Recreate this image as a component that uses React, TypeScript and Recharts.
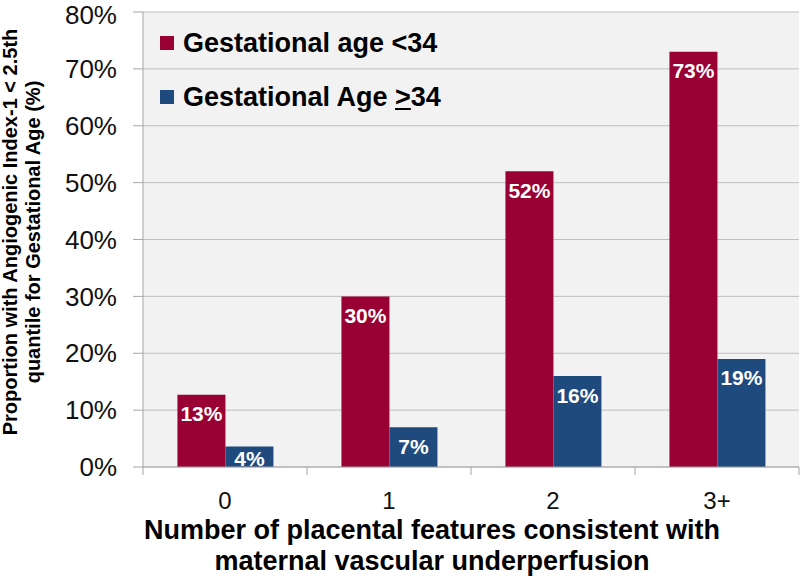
import React from "react";
import { BarChart, Bar, XAxis, YAxis, CartesianGrid, LabelList } from "recharts";

const categories = ["0", "1", "2", "3+"];
const under34 = [12.7, 30, 52, 73];
const over34 = [3.6, 7, 16, 19];
const yTicks = [0, 10, 20, 30, 40, 50, 60, 70, 80];

const RED = "#990033";
const BLUE = "#1F4A7E";
const FONT = "Arial, 'Liberation Sans', sans-serif";

const W = 800;
const H = 576;
const AXIS_W = 143;
const BAND = (W - AXIS_W - 1) / categories.length;

const data = categories.map((c, i) => ({ name: c, lt: under34[i], ge: over34[i] }));

const BarLabel = (props: any) => {
  const { x, y, width, height, value } = props;
  const cy = Math.min(y + 19, y + height - 9);
  return (
    <text
      x={x + width / 2}
      y={cy}
      textAnchor="middle"
      dominantBaseline="central"
      fill="#fff"
      fontWeight="bold"
      fontSize={21}
      fontFamily={FONT}
    >
      {Math.round(value) + "%"}
    </text>
  );
};

const XTick = (props: any) => {
  const { x, y, payload, index } = props;
  return (
    <g>
      {index === 0 && <line x1={x - BAND / 2} x2={x - BAND / 2} y1={y} y2={y + 8} stroke="#A6A6A6" />}
      <line x1={x + BAND / 2} x2={x + BAND / 2} y1={y} y2={y + 8} stroke="#A6A6A6" />
      <text x={x} y={y + 42} textAnchor="middle" fontSize={24} fill="#111" fontFamily={FONT}>
        {payload.value}
      </text>
    </g>
  );
};

// legend drawn as an overlay so it doesn't push the plot down
const LegendBox = () => (
  <div
    style={{
      position: "absolute",
      left: 160,
      top: 28,
      fontFamily: FONT,
      fontWeight: "bold",
      fontSize: 27,
      color: "#000",
      lineHeight: "30px",
    }}
  >
    <div style={{ display: "flex", alignItems: "center", height: 30 }}>
      <span style={{ width: 14, height: 14, background: RED, display: "inline-block", marginRight: 9 }} />
      Gestational age &lt;34
    </div>
    <div style={{ display: "flex", alignItems: "center", height: 30, marginTop: 24 }}>
      <span style={{ width: 14, height: 14, background: BLUE, display: "inline-block", marginRight: 9 }} />
      Gestational Age&nbsp;<u>&gt;</u>34
    </div>
  </div>
);

export default function App() {
  return (
    <div style={{ position: "absolute", left: 0, top: 0, width: W, height: H, background: "#fff" }}>
      <BarChart
        width={W}
        height={H}
        data={data}
        margin={{ top: 12, right: 1, left: 0, bottom: 0 }}
        barCategoryGap="21%"
        barGap={0}
      >
        <CartesianGrid vertical={false} stroke="#BFBFBF" fill="#F2F2F2" />
        <YAxis
          width={AXIS_W}
          domain={[0, 80]}
          ticks={yTicks}
          tickFormatter={(v: number) => v + "%"}
          tickSize={10}
          tickMargin={16}
          stroke="#A6A6A6"
          tick={{ fontSize: 26, fill: "#111", fontFamily: FONT }}
          label={{
            content: () => (
              <text
                transform="translate(0,232) rotate(-90)"
                textAnchor="middle"
                fontWeight="bold"
                fontSize={20}
                fontFamily={FONT}
                fill="#000"
              >
                <tspan x={0} y={17}>Proportion with Angiogenic Index-1 &lt; 2.5th</tspan>
                <tspan x={0} y={40}>quantile  for Gestational Age (%)</tspan>
              </text>
            ),
          }}
        />
        <XAxis
          dataKey="name"
          height={H - 467}
          stroke="#A6A6A6"
          tickLine={false}
          tickSize={0}
          tickMargin={0}
          tick={<XTick />}
          label={{
            content: () => (
              <text textAnchor="middle" fontWeight="bold" fontSize={27} fontFamily={FONT} fill="#000">
                <tspan x={432} y={539}>Number of placental features consistent with</tspan>
                <tspan x={432} y={570}>maternal vascular underperfusion</tspan>
              </text>
            ),
          }}
        />
        <Bar dataKey="lt" fill={RED} isAnimationActive={false}>
          <LabelList dataKey="lt" content={<BarLabel />} />
        </Bar>
        <Bar dataKey="ge" fill={BLUE} isAnimationActive={false}>
          <LabelList dataKey="ge" content={<BarLabel />} />
        </Bar>
      </BarChart>
      <LegendBox />
    </div>
  );
}
